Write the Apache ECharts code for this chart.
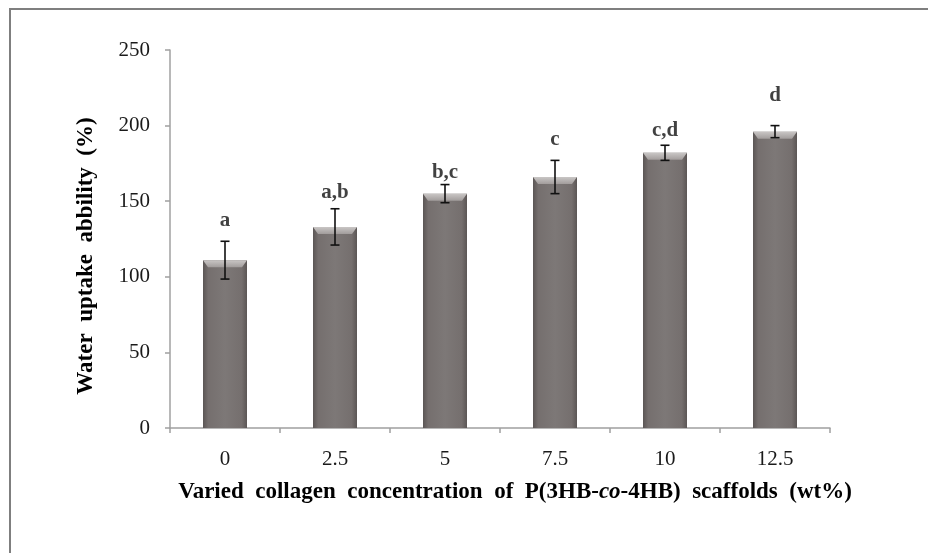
<!DOCTYPE html>
<html>
<head>
<meta charset="utf-8">
<script src="https://cdn.jsdelivr.net/npm/echarts@6/dist/echarts.min.js"></script>
<style>
html,body{margin:0;padding:0;background:#fff;}
#main{width:928px;height:553px;}
</style>
</head>
<body>
<div id="main"></div>
<script>
var categories = ['0', '2.5', '5', '7.5', '10', '12.5'];
var uptake = [111, 133, 155, 166, 182, 196];
var errors = [12.5, 12, 6, 11, 5, 4];
var letters = ['a', 'a,b', 'b,c', 'c', 'c,d', 'd'];
var letterAt = [137, 156, 169, 191, 197, 220];
var yTicks = [0, 50, 100, 150, 200, 250];

var chart = echarts.init(document.getElementById('main'));
var FONT = '"Liberation Serif","Times New Roman",serif';

function barItem(params, api) {
  var i = api.value(0);
  var v = api.value(1);
  var top = api.coord([i, v]);
  var base = api.coord([i, 0]);
  var w = api.size([1, 0])[0] * 0.4;
  var x0 = top[0] - w / 2;
  var h = base[1] - top[1];
  var bevel = 7;
  var inset = 5;
  return {
    type: 'group',
    children: [
      {
        type: 'rect',
        shape: { x: x0, y: top[1], width: w, height: h },
        style: {
          fill: new echarts.graphic.LinearGradient(0, 0, 1, 0, [
            { offset: 0, color: '#5b5655' },
            { offset: 0.12, color: '#756f6e' },
            { offset: 0.5, color: '#7d7877' },
            { offset: 0.88, color: '#756f6e' },
            { offset: 1, color: '#5b5655' }
          ])
        }
      },
      {
        type: 'polygon',
        shape: { points: [[x0, top[1]], [x0 + w, top[1]], [x0 + w - inset, top[1] + bevel], [x0 + inset, top[1] + bevel]] },
        style: {
          fill: new echarts.graphic.LinearGradient(0, 0, 0, 1, [
            { offset: 0, color: '#c9c6c5' },
            { offset: 1, color: '#a29d9c' }
          ])
        }
      }
    ]
  };
}

function errItem(params, api) {
  var i = api.value(0);
  var v = api.value(1);
  var e = api.value(2);
  var hi = api.coord([i, v + e]);
  var lo = api.coord([i, v - e]);
  var cap = 4.5;
  var st = { stroke: '#111', lineWidth: 1.6 };
  return {
    type: 'group',
    children: [
      { type: 'line', shape: { x1: hi[0], y1: hi[1], x2: lo[0], y2: lo[1] }, style: st },
      { type: 'line', shape: { x1: hi[0] - cap, y1: hi[1], x2: hi[0] + cap, y2: hi[1] }, style: st },
      { type: 'line', shape: { x1: lo[0] - cap, y1: lo[1], x2: lo[0] + cap, y2: lo[1] }, style: st }
    ]
  };
}

chart.setOption({
  animation: false,
  backgroundColor: '#fff',
  graphic: [{
    type: 'rect',
    shape: { x: 10, y: 9, width: 940, height: 570 },
    style: { fill: 'none', stroke: '#7f7f7f', lineWidth: 2 },
    silent: true
  }],
  grid: { left: 170, right: 98, top: 50, bottom: 125 },
  xAxis: {
    type: 'category',
    data: categories,
    boundaryGap: true,
    axisLine: { lineStyle: { color: '#a0a0a0', width: 1.5 } },
    axisTick: { show: true, length: 5, lineStyle: { color: '#a0a0a0', width: 1.5 } },
    axisLabel: { color: '#1a1a1a', fontFamily: FONT, fontSize: 21, margin: 21 },
    name: 'Varied  collagen  concentration  of  P(3HB-{i|co}-4HB)  scaffolds  (wt%)',
    nameLocation: 'middle',
    nameGap: 53,
    nameTextStyle: {
      color: '#000', fontFamily: FONT, fontSize: 23, fontWeight: 'bold',
      padding: [0, 0, 0, 30],
      rich: { i: { fontStyle: 'italic', fontWeight: 'bold', fontFamily: FONT, fontSize: 23, color: '#000' } }
    }
  },
  yAxis: {
    type: 'value',
    min: yTicks[0],
    max: yTicks[yTicks.length - 1],
    interval: yTicks[1] - yTicks[0],
    axisLine: { show: true, lineStyle: { color: '#a0a0a0', width: 1.5 } },
    axisTick: { show: true, length: 5, lineStyle: { color: '#a0a0a0', width: 1.5 } },
    splitLine: { show: false },
    axisLabel: { color: '#1a1a1a', fontFamily: FONT, fontSize: 21, margin: 20 },
    name: 'Water  uptake  abbility  (%)',
    nameLocation: 'middle',
    nameGap: 72,
    nameTextStyle: { color: '#000', fontFamily: FONT, fontSize: 23, fontWeight: 'bold', padding: [0, 34, 0, 0] }
  },
  series: [
    {
      type: 'custom',
      renderItem: barItem,
      data: uptake.map(function (v, i) { return [i, v]; }),
      encode: { x: 0, y: 1 },
      z: 2
    },
    {
      type: 'custom',
      renderItem: errItem,
      data: uptake.map(function (v, i) { return [i, v, errors[i]]; }),
      encode: { x: 0, y: [1] },
      z: 3
    },
    {
      type: 'scatter',
      symbolSize: 0,
      data: letterAt.map(function (v, i) { return [i, v]; }),
      label: {
        show: true,
        position: 'inside',
        formatter: function (p) { return letters[p.dataIndex]; },
        color: '#111',
        fontFamily: FONT,
        fontSize: 21,
        fontWeight: 'bold'
      },
      z: 4
    }
  ]
});
</script>
</body>
</html>
